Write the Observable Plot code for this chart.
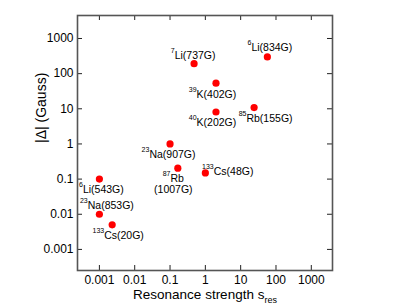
<!DOCTYPE html>
<html>
<head>
<meta charset="utf-8">
<script src="https://cdn.jsdelivr.net/npm/d3@7"></script>
<script src="https://cdn.jsdelivr.net/npm/@observablehq/plot@0.6"></script>
<style>
  body { margin: 0; background: #fff; }
</style>
</head>
<body>
<div id="chart"></div>
<script>
// ---- data ----
const masses   = ["7", "6", "39", "40", "85", "23", "87", "133", "6", "23", "133"];
const elements = ["Li", "Li", "K", "K", "Rb", "Na", "Rb", "Cs", "Li", "Na", "Cs"];
const fields   = [737, 834, 402, 202, 155, 907, 1007, 48, 543, 853, 20];
const sres     = [0.48, 57, 2.0, 2.0, 24, 0.1, 0.166, 1.0, 0.001, 0.001, 0.0023];
const delta    = [192, 298, 53.5, 8.1, 10.8, 1.0, 0.205, 0.15, 0.1, 0.01, 0.005];

const xTicks = [0.001, 0.01, 0.1, 1, 10, 100, 1000];
const xTickLabels = ["0.001", "0.01", "0.1", "1", "10", "100", "1000"];
const yTicks = [0.001, 0.01, 0.1, 1, 10, 100, 1000];
const yTickLabels = ["0.001", "0.01", "0.1", "1", "10", "100", "1000"];

const xTitle = "Resonance strength s";
const xTitleSub = "res";
const yTitle = "|Δ| (Gauss)";

// ---- label placement (style only): [dx, dy, anchor, twoLines] ----
const labelLayout = [
  [-1, -4.5, "middle", false],
  [2.5, -6, "middle", false],
  [-3.5, 15, "middle", false],
  [-3.5, 13.5, "middle", false],
  [11.5, 14, "middle", false],
  [-1.5, 14, "middle", false],
  [-4.5, 13.5, "middle", true],
  [-3.3, 2, "start", false],
  [2, 13.5, "middle", false],
  [7.5, -5.7, "middle", false],
  [6, 14, "middle", false]
];

const idx = d3.range(masses.length);
const FONT = "'Liberation Sans', Arial, Helvetica, sans-serif";

const chart = Plot.plot({
  width: 399,
  height: 308,
  marginLeft: 77,
  marginRight: 67,
  marginTop: 15,
  marginBottom: 38,
  style: { fontFamily: FONT, fontSize: "12px", background: "#fff", color: "#000", overflow: "visible" },
  x: { type: "log", domain: [Math.pow(10, -3.62), Math.pow(10, 3.6)] },
  y: { type: "log", domain: [Math.pow(10, -3.6), Math.pow(10, 3.654)] },
  marks: [
    // inward ticks on all four sides
    Plot.ruleX(xTicks, { x: d => d, insetTop: 250, stroke: "#222", strokeWidth: 1 }),
    Plot.ruleX(xTicks, { x: d => d, insetBottom: 250, stroke: "#222", strokeWidth: 1 }),
    Plot.ruleY(yTicks, { y: d => d, insetRight: 250, stroke: "#222", strokeWidth: 1 }),
    Plot.ruleY(yTicks, { y: d => d, insetLeft: 250, stroke: "#222", strokeWidth: 1 }),
    Plot.frame({ stroke: "#555", strokeWidth: 1.6 }),
    Plot.axisX(xTicks, {
      tickSize: 0, tickPadding: 5, label: null, fontSize: 12,
      tickFormat: d => xTickLabels[xTicks.indexOf(d)]
    }),
    Plot.axisY(yTicks, {
      tickSize: 0, tickPadding: 4, label: null, fontSize: 12,
      tickFormat: d => yTickLabels[yTicks.indexOf(d)]
    }),
    Plot.dot(idx, { x: i => sres[i], y: i => delta[i], r: 3.6, fill: "#ff0000", stroke: "none" }),
    Plot.text(idx, {
      x: i => sres[i], y: i => delta[i], text: i => elements[i],
      lineAnchor: "bottom", fontSize: 10.5, fill: "#000"
    }),
    Plot.text([xTitle], { frameAnchor: "bottom", dy: 28, text: d => d, lineAnchor: "bottom", fontSize: 13.5, fill: "#000" }),
    Plot.text([yTitle], { frameAnchor: "left", rotate: -90, dx: -35.5, text: d => d, lineAnchor: "middle", fontSize: 14, fill: "#000" })
  ]
});

document.getElementById("chart").appendChild(chart);

// ---- rich text: superscripts / subscripts ----
const NS = "http://www.w3.org/2000/svg";
function ts(parent, txt, attrs) {
  const e = document.createElementNS(NS, "tspan");
  e.textContent = txt;
  for (const k in attrs) e.setAttribute(k, attrs[k]);
  parent.appendChild(e);
  return e;
}
const textGroups = chart.querySelectorAll('g[aria-label="text"]');
if (textGroups.length >= 3) {
  const labels = textGroups[0].querySelectorAll("text");
  labels.forEach((t, j) => {
    const i = idx[j];
    const [dx, dy, anchor, two] = labelLayout[i];
    t.textContent = "";
    ts(t, masses[i], { "font-size": 7, dy: -6 });
    const tail = "(" + fields[i] + "G)";
    if (two) {
      ts(t, elements[i], { dy: 6 });
      ts(t, tail, { x: 0, dy: 11 });
    } else {
      ts(t, elements[i] + tail, { dy: 6 });
    }
    t.setAttribute("text-anchor", anchor);
    t.setAttribute("transform", (t.getAttribute("transform") || "") + ` translate(${dx},${dy})`);
  });
  const xt = textGroups[1].querySelector("text");
  ts(xt, xTitleSub, { "font-size": 9, dy: 4 });
}
</script>
</body>
</html>
